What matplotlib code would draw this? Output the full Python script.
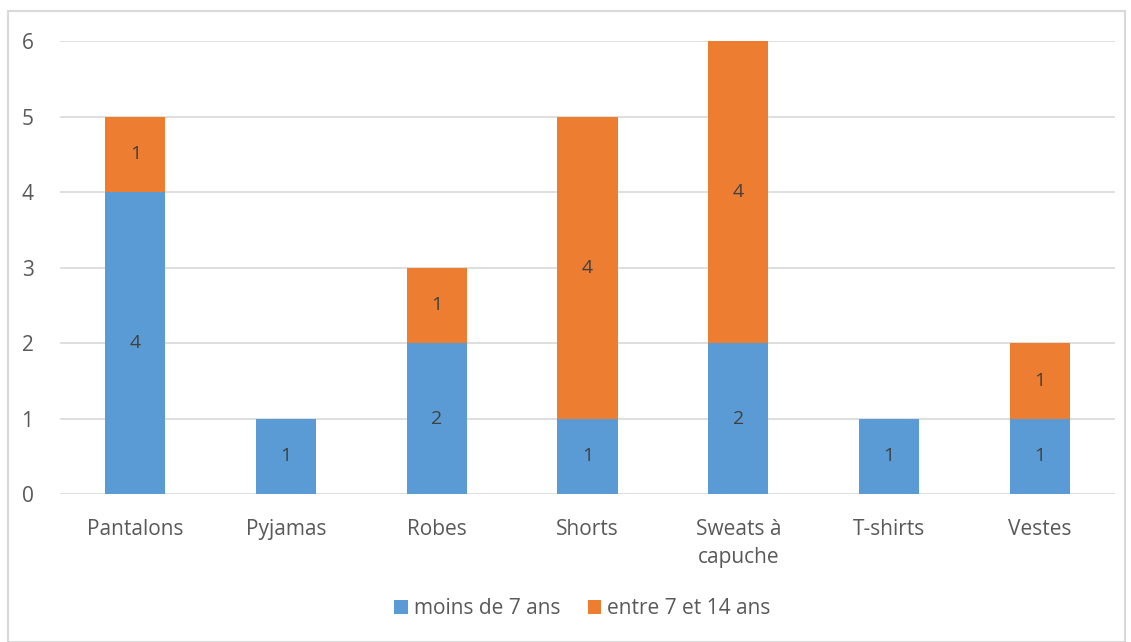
import matplotlib.pyplot as plt
from matplotlib.patches import Rectangle

categories = ["Pantalons", "Pyjamas", "Robes", "Shorts", "Sweats à\ncapuche", "T-shirts", "Vestes"]
moins_7 = [4, 1, 2, 1, 2, 1, 1]
entre_7_14 = [1, 0, 1, 4, 4, 0, 1]

blue = "#5B9BD5"
orange = "#ED7D31"
grey = "#595959"

plt.rcParams["font.family"] = ["Open Sans", "DejaVu Sans"]

fig = plt.figure(figsize=(11.31, 6.42), dpi=100)
ax = fig.add_axes([0.053, 0.2305, 0.933, 0.7055])

x = list(range(len(categories)))
ax.bar(x, moins_7, 0.4, color=blue, label="moins de 7 ans", zorder=3)
ax.bar(x, entre_7_14, 0.4, bottom=moins_7, color=orange, label="entre 7 et 14 ans", zorder=3)

for i in x:
    if moins_7[i]:
        ax.text(i, moins_7[i] / 2, str(moins_7[i]), ha="center", va="center", fontsize=14, color="#404040", zorder=4)
    if entre_7_14[i]:
        ax.text(i, moins_7[i] + entre_7_14[i] / 2, str(entre_7_14[i]), ha="center", va="center", fontsize=14, color="#404040", zorder=4)

ax.set_xlim(-0.5, 6.5)
ax.set_ylim(0, 6)
ax.set_yticks(range(0, 7))
ax.yaxis.grid(True, color="#D9D9D9", linewidth=1.2, zorder=0)
for s in ax.spines.values():
    s.set_visible(False)
ax.tick_params(axis="both", length=0, labelsize=15, labelcolor=grey)
ax.tick_params(axis="y", pad=19)
ax.tick_params(axis="x", pad=18)
ax.set_xticks(x)
ax.set_xticklabels(categories, linespacing=1.45)

fig.legend(loc="center", bbox_to_anchor=(0.515, 0.052), ncol=2, frameon=False,
           fontsize=15, labelcolor=grey, handlelength=0.65, handleheight=0.65,
           handletextpad=0.3, columnspacing=1.3)

fig.patches.append(Rectangle((8 / 1131, 0), 1117 / 1131, 1 - 11 / 642, transform=fig.transFigure,
                             fill=False, edgecolor="#D9D9D9", linewidth=1.5))

fig.savefig("out.png", dpi=100)
